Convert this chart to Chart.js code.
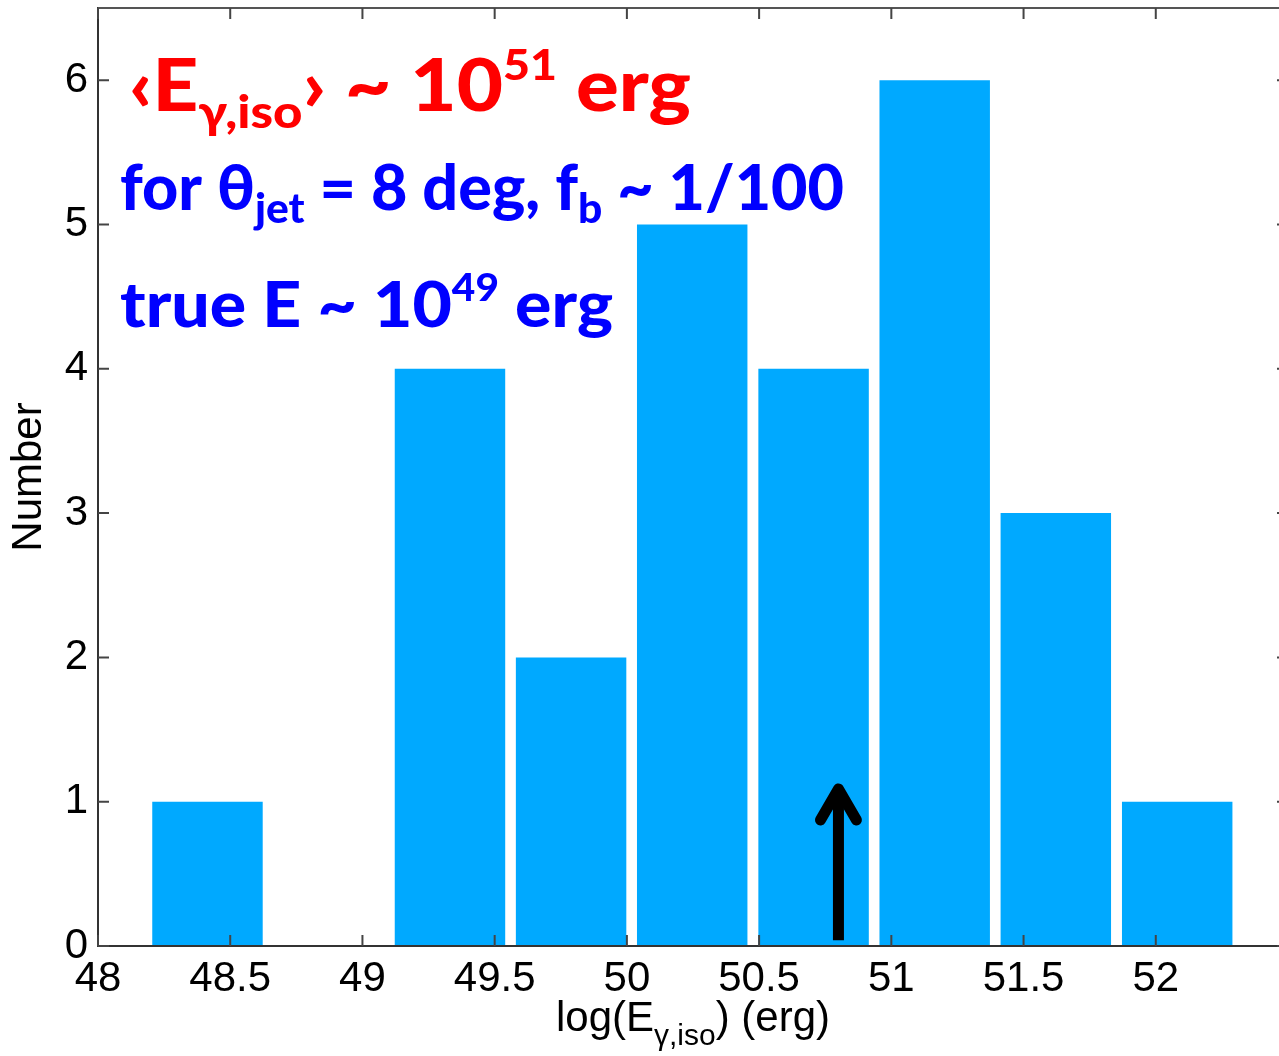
<!DOCTYPE html>
<html>
<head>
<meta charset="utf-8">
<script src="https://cdn.jsdelivr.net/npm/chart.js@4.4.1/dist/chart.umd.min.js"></script>
<style>
  html, body { margin: 0; padding: 0; background: #fff; overflow: hidden; }
  #wrap { width: 1290px; height: 1056px; }
</style>
</head>
<body>
<div id="wrap"><canvas id="hist" width="1290" height="1056"></canvas></div>
<script>
// histogram of log(E_gamma,iso): bin centres and number of bursts per bin
var binCenters = [48.414, 48.872, 49.331, 49.789, 50.247, 50.706, 51.164, 51.622, 52.081];
var counts = [1, 0, 4, 2, 5, 4, 6, 3, 1];
var xRange = [48, 52.5];
var yRange = [0, 6.5];
// arrow marking the mean energy (data units)
var arrowX = [50.8];
var arrowY = [0.04, 1.13];

var axisFont = 'Liberation Sans, Arial, Helvetica, sans-serif';
var noteFont = 'Lato, "Open Sans", sans-serif';

// draw a line of text made of pieces [text, size, dy], optionally squeezed to a width
function drawRich(ctx, parts, x, y, width, color, weight) {
  var w = 0;
  parts.forEach(function (p) {
    ctx.font = weight + ' ' + p[1] + 'px ' + (p[3] || noteFont);
    w += ctx.measureText(p[0]).width;
  });
  var sx = width ? width / w : 1;
  ctx.save();
  ctx.translate(x, y);
  ctx.scale(sx, 1);
  ctx.fillStyle = color;
  ctx.textBaseline = 'alphabetic';
  ctx.textAlign = 'left';
  var cx = 0;
  parts.forEach(function (p) {
    ctx.font = weight + ' ' + p[1] + 'px ' + (p[3] || noteFont);
    ctx.fillText(p[0], cx, p[2]);
    cx += ctx.measureText(p[0]).width;
  });
  ctx.restore();
  return w * sx;
}

// scales should not push the plot box around
function noPad(s) {
  s.paddingTop = 0;
  s.paddingBottom = 0;
  s.paddingLeft = 0;
  s.paddingRight = 0;
}

// box, inward ticks, arrow and labels in the old matlab look
Chart.register({
  id: 'matlabBox',
  afterDraw: function (chart) {
    var ctx = chart.ctx;
    var area = chart.chartArea;
    var xs = chart.scales.x, ys = chart.scales.y;
    ctx.save();

    // arrow
    var ax = xs.getPixelForValue(arrowX[0]);
    var yb = ys.getPixelForValue(arrowY[0]);
    var yt = ys.getPixelForValue(arrowY[1]);
    ctx.strokeStyle = '#000';
    ctx.lineWidth = 11;
    ctx.lineCap = 'butt';
    ctx.beginPath();
    ctx.moveTo(ax, yb);
    ctx.lineTo(ax, yt + 8);
    ctx.stroke();
    ctx.lineCap = 'round';
    ctx.lineJoin = 'round';
    ctx.beginPath();
    ctx.moveTo(ax - 18, yt + 37);
    ctx.lineTo(ax, yt + 6);
    ctx.lineTo(ax + 18, yt + 37);
    ctx.stroke();

    // top and right edges of the box
    ctx.lineCap = 'butt';
    ctx.strokeStyle = '#555';
    ctx.lineWidth = 2;
    ctx.beginPath();
    ctx.moveTo(area.left, area.top);
    ctx.lineTo(area.right, area.top);
    ctx.lineTo(area.right, area.bottom);
    ctx.stroke();

    // inward tick marks on all four sides
    ctx.strokeStyle = '#444';
    ctx.beginPath();
    xs.ticks.forEach(function (t) {
      var px = xs.getPixelForValue(t.value);
      ctx.moveTo(px, area.bottom);
      ctx.lineTo(px, area.bottom - 11);
      ctx.moveTo(px, area.top);
      ctx.lineTo(px, area.top + 11);
    });
    ys.ticks.forEach(function (t) {
      var py = ys.getPixelForValue(t.value);
      ctx.moveTo(area.left, py);
      ctx.lineTo(area.left + 11, py);
      ctx.moveTo(area.right, py);
      ctx.lineTo(area.right - 11, py);
    });
    ctx.stroke();

    // x axis title with subscript
    var xt = [['log(E', 42, 0, axisFont], ['\u03b3,iso', 30, 14, axisFont], [') (erg)', 42, 0, axisFont]];
    var tw = 0;
    xt.forEach(function (p) { ctx.font = 'normal ' + p[1] + 'px ' + p[3]; tw += ctx.measureText(p[0]).width; });
    drawRich(ctx, xt, (area.left + area.right) / 2 - tw / 2, 1031, 0, '#000', 'normal');

    // annotations
    drawRich(ctx, [['\u2039', 72, 0], ['E', 72, 0], ['\u03b3,iso', 46, 17], ['\u203a', 72, 0],
      [' ~ 10', 72, 0], ['51', 42, -31], [' erg', 72, 0]], 129, 111, 562, '#ff0000', '900');
    drawRich(ctx, [['for \u03b8', 62, 0], ['jet', 42, 13], [' = 8 deg, f', 62, 0], ['b', 42, 13],
      [' ~ 1/100', 62, 0]], 120, 210, 724, '#0000ff', '900');
    drawRich(ctx, [['true E ~ 10', 62, 0], ['49', 37, -26], [' erg', 62, 0]], 120, 327, 493, '#0000ff', '900');

    ctx.restore();
  }
});

var points = binCenters.map(function (c, i) { return { x: c, y: counts[i] }; });

new Chart(document.getElementById('hist'), {
  type: 'bar',
  data: {
    datasets: [{
      data: points,
      backgroundColor: '#00a9ff',
      borderWidth: 0,
      barPercentage: 0.912,
      categoryPercentage: 1.0
    }]
  },
  options: {
    responsive: false,
    devicePixelRatio: 1,
    animation: false,
    layout: { autoPadding: false, padding: { top: 8, right: 2, left: 0, bottom: 0 } },
    plugins: { legend: { display: false }, tooltip: { enabled: false } },
    scales: {
      x: {
        type: 'linear',
        offset: false,
        min: xRange[0],
        max: xRange[1],
        grid: { display: false, drawTicks: false, offset: false },
        border: { display: true, color: '#333', width: 2, z: 1 },
        ticks: {
          stepSize: 0.5,
          padding: 8,
          color: '#000',
          maxRotation: 0,
          autoSkip: false,
          font: { family: axisFont, size: 42 },
          callback: function (v) { return v > 52 ? '' : String(v); }
        },
        afterFit: function (s) { s.height = 110; noPad(s); }
      },
      y: {
        min: yRange[0],
        max: yRange[1],
        grid: { display: false, drawTicks: false },
        border: { display: true, color: '#333', width: 2, z: 1 },
        ticks: {
          stepSize: 1,
          includeBounds: false,
          padding: 10,
          color: '#000',
          font: { family: axisFont, size: 42 }
        },
        title: {
          display: true,
          text: 'Number',
          color: '#000',
          font: { family: axisFont, size: 42 },
          padding: { top: 4, bottom: 0 }
        },
        afterFit: function (s) { s.width = 98; noPad(s); }
      }
    }
  }
});
</script>
</body>
</html>
